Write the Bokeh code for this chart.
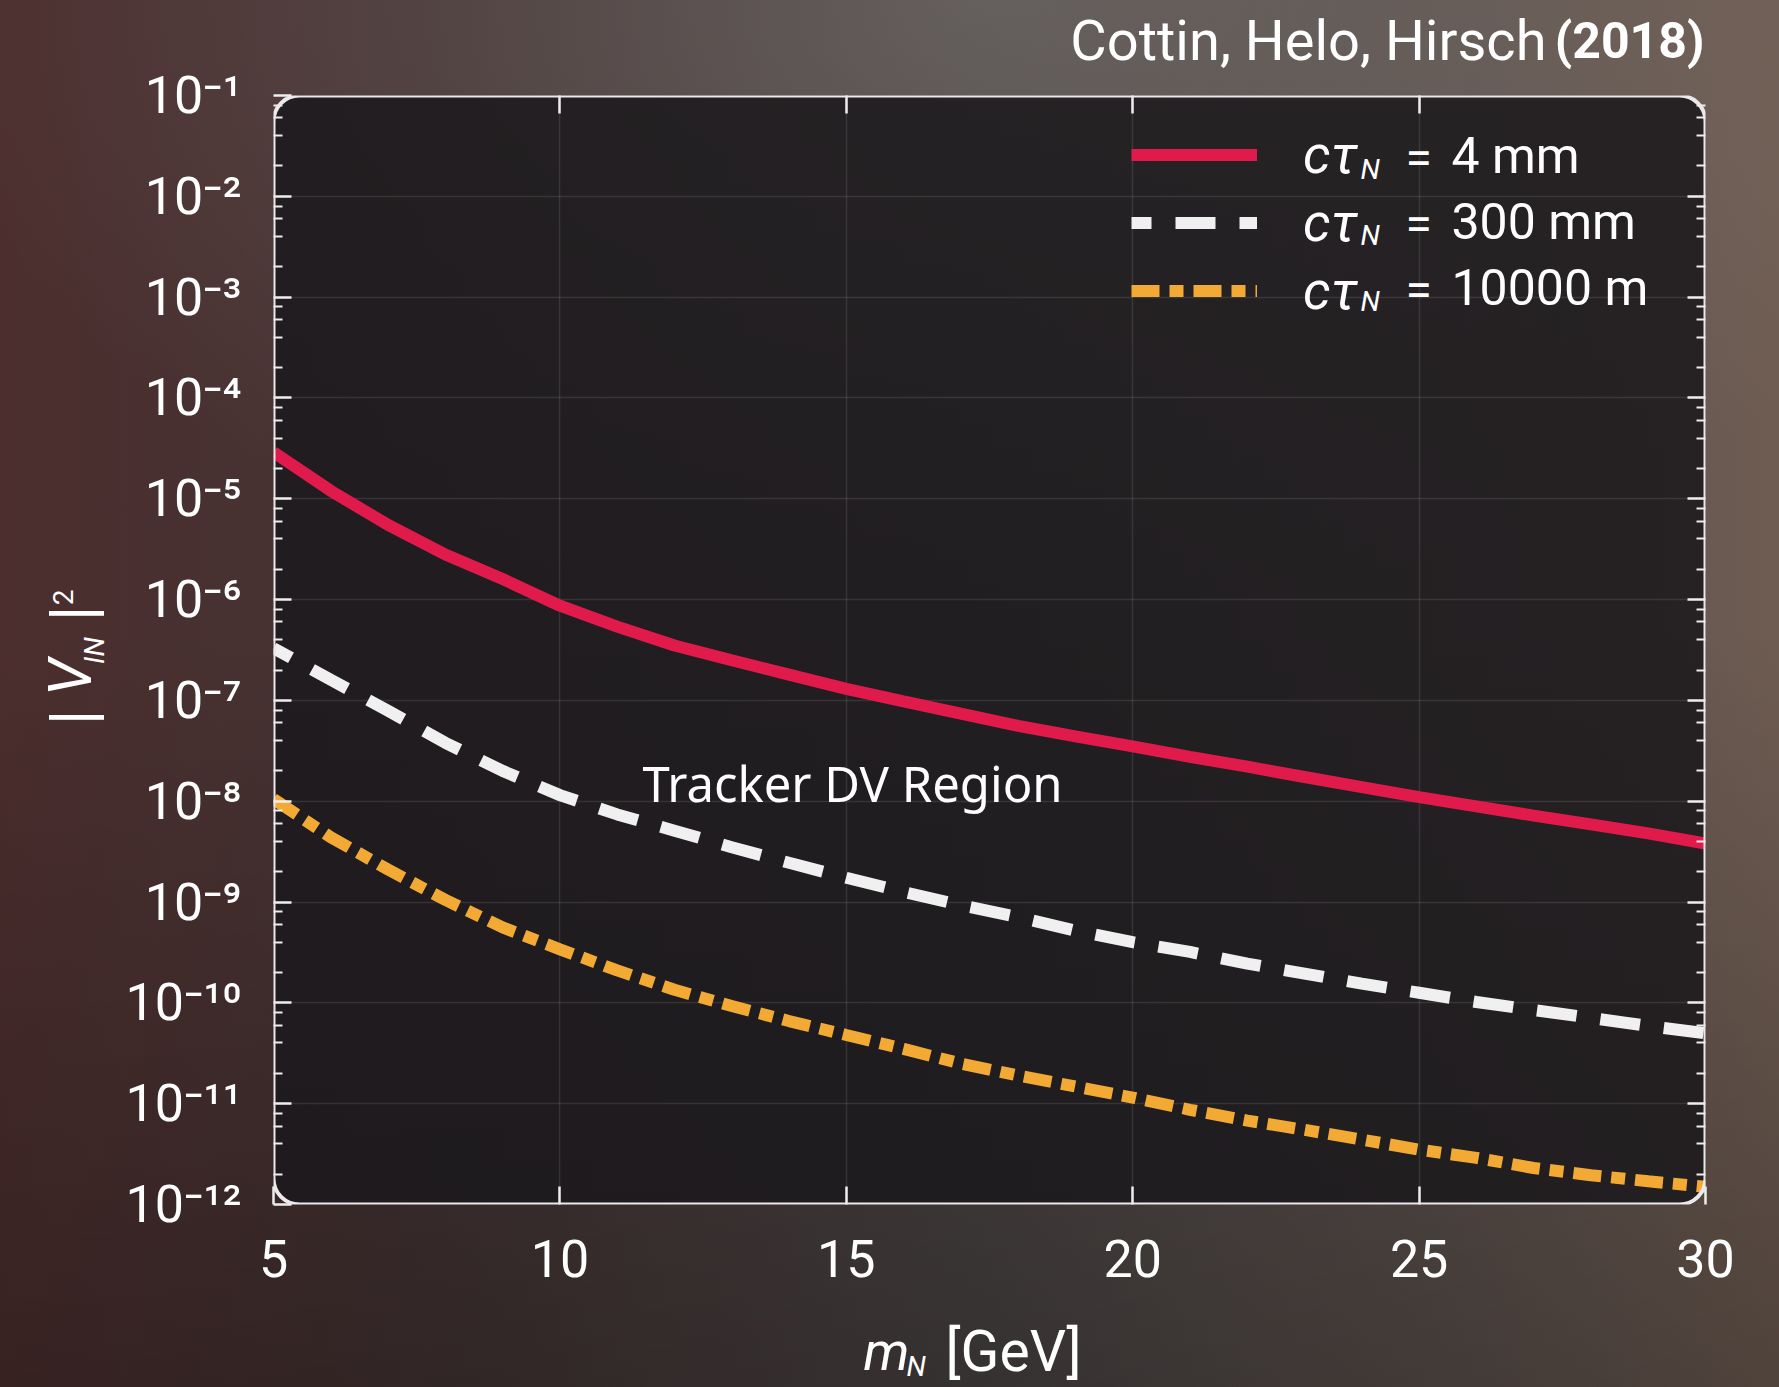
import math
from bokeh.plotting import figure
from bokeh.models import (LogAxis, LinearAxis, FixedTicker, Label, Legend, LegendItem,
                          BoxAnnotation, Range1d, CustomJSTickFormatter, GlobalInlineStyleSheet)
from bokeh.core.properties import value
from bokeh.embed import file_html
from bokeh.resources import INLINE

# ---------------- data ----------------
mass_gev = [5, 6, 7, 8, 9, 10, 11, 12, 13, 14, 15, 16, 17, 18, 19, 20,
            21, 22, 23, 24, 25, 26, 27, 28, 29, 30]
v2_ctau_4mm = [2.9e-5, 1.2e-5, 5.5e-6, 2.8e-6, 1.6e-6, 8.7e-7, 5.4e-7, 3.5e-7, 2.5e-7,
               1.8e-7, 1.3e-7, 9.8e-8, 7.4e-8, 5.6e-8, 4.4e-8, 3.5e-8, 2.75e-8, 2.2e-8,
               1.74e-8, 1.38e-8, 1.1e-8, 8.9e-9, 7.2e-9, 5.9e-9, 4.8e-9, 3.8e-9]
v2_ctau_300mm = [3.3e-7, 1.6e-7, 7.9e-8, 3.8e-8, 2.0e-8, 1.15e-8, 7.4e-9, 5.1e-9, 3.5e-9,
                 2.45e-9, 1.74e-9, 1.26e-9, 9.3e-10, 7.1e-10, 5.2e-10, 4.0e-10, 3.2e-10,
                 2.45e-10, 1.95e-10, 1.55e-10, 1.26e-10, 1.02e-10, 8.5e-11, 7.1e-11,
                 5.9e-11, 5.0e-11]
v2_ctau_10000m = [1.05e-8, 4.4e-9, 2.1e-9, 1.05e-9, 5.6e-10, 3.4e-10, 2.1e-10, 1.35e-10,
                  9.3e-11, 6.6e-11, 4.8e-11, 3.5e-11, 2.5e-11, 1.9e-11, 1.48e-11, 1.15e-11,
                  8.7e-12, 6.8e-12, 5.5e-12, 4.4e-12, 3.5e-12, 2.9e-12, 2.3e-12, 1.95e-12,
                  1.7e-12, 1.5e-12]
x_ticks = [5, 10, 15, 20, 25, 30]
y_exponents = list(range(-12, 0))
y_tick_labels = ["10⁻¹²", "10⁻¹¹", "10⁻¹⁰", "10⁻⁹", "10⁻⁸", "10⁻⁷",
                 "10⁻⁶", "10⁻⁵", "10⁻⁴", "10⁻³", "10⁻²", "10⁻¹"]
legend_values = ["4 mm", "300 mm", "10000 m"]
title_authors = "Cottin, Helo, Hirsch"
title_year = "(2018)"
region_text = "Tracker DV Region"

# ---------------- geometry helpers (reference pixel -> data) ----------------
W, H = 1779, 1387
FR_L, FR_R, FR_T, FR_B = 273, 1705, 95, 1204


def dx(px):
    return 5 + (px - FR_L) * 25.0 / (FR_R - FR_L)


def dy(py):
    return 10 ** (-1 - (py - FR_T) * 11.0 / (FR_B - FR_T))


p = figure(width=W, height=H, x_range=Range1d(5, 30), y_range=Range1d(1e-12, 1e-1),
           y_axis_type="log", output_backend="svg", toolbar_location=None,
           min_border_left=FR_L, min_border_right=W - FR_R,
           min_border_top=FR_T, min_border_bottom=H - FR_B)

p.background_fill_alpha = 0
p.border_fill_alpha = 0
p.outline_line_color = None
p.styles = {
    "background": (
        "radial-gradient(ellipse 60% 45% at 55% 0%, rgba(150,145,140,0.35), rgba(0,0,0,0) 100%),"
        "linear-gradient(180deg, rgba(0,0,0,0) 45%, rgba(0,0,0,0.28) 100%),"
        "linear-gradient(90deg, #4c2e2e 0%, #443434 25%, #4a4444 55%, #5a504c 80%, #6e5c52 100%)"
    )
}
p.stylesheets = [GlobalInlineStyleSheet(css="body { background: #3a3030; }")]

# plot panel (rounded) beneath grid
panel = BoxAnnotation(left=5, right=30, bottom=1e-12, top=1e-1, fill_color="#1b191c",
                      fill_alpha=0.86, line_color=None, border_radius=26, level="image")
p.add_layout(panel)

tick_vals = [10.0 ** e for e in y_exponents]
minor_vals = [m * 10.0 ** e for e in range(-12, -1) for m in (2, 4, 6, 8)]
yticker = FixedTicker(ticks=tick_vals, minor_ticks=minor_vals)
xticker = FixedTicker(ticks=x_ticks, minor_ticks=[])
# opposite-side tickers without the corner ticks (hidden by the rounded frame)
yticker_r = FixedTicker(ticks=tick_vals[1:-1], minor_ticks=minor_vals)
xticker_t = FixedTicker(ticks=x_ticks[1:-1], minor_ticks=[])

p.xgrid.ticker = xticker
p.ygrid.ticker = yticker
for g in (p.xgrid[0], p.ygrid[0]):
    g.grid_line_color = "#ffffff"
    g.grid_line_alpha = 0.10
    g.grid_line_width = 1.5


def style_axis(ax, labels=True):
    ax.axis_line_color = None
    ax.major_tick_line_color = "#eeeeee"
    ax.minor_tick_line_color = "#eeeeee"
    ax.major_tick_line_width = 2.5
    ax.minor_tick_line_width = 2
    ax.major_tick_in = 18
    ax.major_tick_out = 0
    ax.minor_tick_in = 9
    ax.minor_tick_out = 0
    ax.major_label_text_color = "#ffffff"
    ax.major_label_text_font = "Roboto"
    ax.major_label_text_font_size = "52px"
    if not labels:
        ax.formatter = CustomJSTickFormatter(code="return ''")
        ax.major_label_text_font_size = "1px"


xa = p.xaxis[0]
xa.ticker = xticker
style_axis(xa)
xa.major_label_standoff = 35

ya = p.yaxis[0]
ya.ticker = yticker
style_axis(ya)
ya.major_label_standoff = 32
ya.major_label_overrides = {v: lab for v, lab in zip(tick_vals, y_tick_labels)}

top_ax = LinearAxis(ticker=xticker_t)
style_axis(top_ax, labels=False)
p.add_layout(top_ax, "above")
right_ax = LogAxis(ticker=yticker_r)
style_axis(right_ax, labels=False)
p.add_layout(right_ax, "right")

# ---------------- curves ----------------
r_red = p.line(mass_gev, v2_ctau_4mm, line_color="#e01a4b", line_width=12)
r_white = p.line(mass_gev, v2_ctau_300mm, line_color="#f0f0f0", line_width=12,
                 line_dash="40 24", line_dash_offset=20)
r_orange = p.line(mass_gev, v2_ctau_10000m, line_color="#f2aa35", line_width=12,
                  line_dash="28 10 14 10")

# frame outline (rounded) on top
frame = BoxAnnotation(left=5, right=30, bottom=1e-12, top=1e-1, fill_color=None,
                      fill_alpha=0, line_color="#ebe9eb", line_alpha=1.0, line_width=4,
                      border_radius=26, level="overlay")
p.add_layout(frame)

# ---------------- legend ----------------
row_c = [155, 221, 287]
item_h = 61
leg = Legend(items=[LegendItem(label="cτ", renderers=[r]) for r in (r_red, r_white, r_orange)],
             location=(1131 - FR_L, 882),
             orientation="vertical", glyph_width=126, glyph_height=item_h,
             label_height=item_h, label_width=10, spacing=5, padding=0, margin=0,
             label_standoff=46, background_fill_alpha=0, border_line_color=None,
             label_text_font="Roboto", label_text_font_style="italic",
             label_text_font_size="54px", label_text_color="#ffffff")
p.add_layout(leg)


def mid_label(px, py, txt, size, style="normal", font="Roboto", align="left"):
    p.add_layout(Label(x=dx(px), y=dy(py), text=txt, text_font=font, text_font_style=style,
                       text_font_size=size, text_color="#ffffff", text_align=align,
                       text_baseline="middle"))


for i, val in enumerate(legend_values):
    c = row_c[i]
    mid_label(1360, c + 14, "N", "28px", style="italic")
    mid_label(1405, c + 2, "=", "48px")
    mid_label(1451, c, val, "50px")

mid_label(642, 782, region_text, "49px", font="Noto Sans")


# ---------------- texts outside the frame (unclipped overlay text glyphs) ----------------
def free_text(px, py, txt, size, style="normal", font="Roboto", align="left",
              baseline="middle", angle=0.0):
    p.text(x=[dx(px)], y=[dy(py)], text=[txt], text_font=value(font),
           text_font_style=style, text_font_size=size, text_align=align,
           text_baseline=baseline, angle=angle, text_color="#ffffff", level="overlay")


free_text(1704, 40, title_year, "50px", style="bold", align="right")
free_text(1546, 40, title_authors, "56px", align="right")

# x-axis label  m_N [GeV]
free_text(863, 1351, "m", "54px", style="italic")
free_text(906, 1366, "N", "28px", style="italic")
free_text(945, 1351, "[GeV]", "57px")

# y-axis label |V_IN|^2 (rotated)
ypieces = [("|", 73, 717, "64px", "normal"), ("V", 70, 677, "60px", "italic"),
           ("IN", 94, 650, "28px", "italic"), ("|", 73, 613, "64px", "normal"),
           ("2", 62, 597, "28px", "normal")]
for t, px, py, fs, st in ypieces:
    free_text(px, py, t, fs, style=st, align="center", angle=math.pi / 2)

open("out.html", "w").write(file_html(p, INLINE))
